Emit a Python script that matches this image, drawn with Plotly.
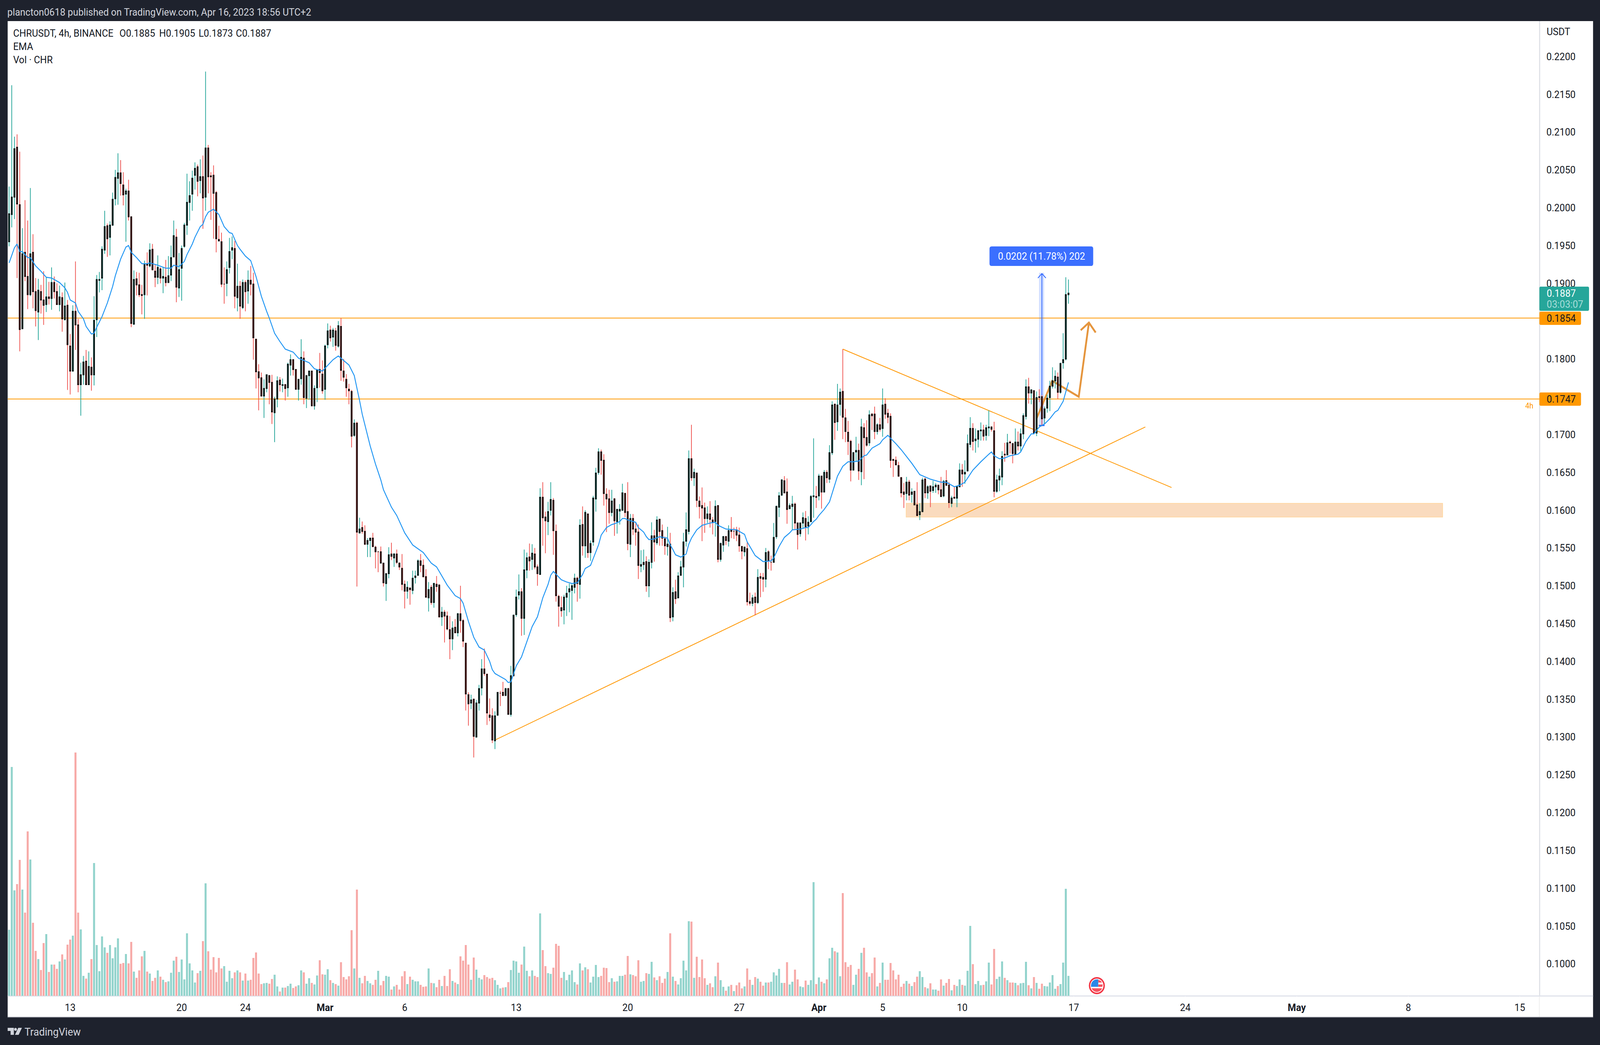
import math
import pandas as pd
import plotly.graph_objects as go

# 4h candles
open_ = [
    .1955,.1991,.2014,.2080,.2004,.1840,.1941,.1909,.1885,.1941,
    .1889,.1862,.1889,.1878,.1872,.1882,.1880,.1901,.1889,.1872,
    .1881,.1852,.1871,.1817,.1784,.1863,.1845,.1766,.1779,.1797,
    .1766,.1789,.1779,.1852,.1904,.1907,.1944,.1976,.1961,.1977,
    .2012,.2039,.2046,.2030,.2018,.2022,.1988,.1846,.1906,.1898,
    .1885,.1885,.1925,.1923,.1945,.1916,.1908,.1919,.1907,.1908,
    .1901,.1911,.1935,.1961,.1894,.1920,.1949,.1977,.2007,.2018,
    .2043,.2054,.2036,.2041,.2014,.2079,.2042,.2043,.2020,.1958,
    .1955,.1899,.1900,.1921,.1944,.1946,.1881,.1896,.1868,.1901,
    .1890,.1904,.1899,.1826,.1783,.1775,.1751,.1761,.1778,.1769,
    .1729,.1747,.1772,.1765,.1766,.1762,.1792,.1799,.1786,.1760,
    .1774,.1801,.1748,.1778,.1784,.1738,.1762,.1786,.1780,.1760,
    .1819,.1838,.1829,.1837,.1817,.1843,.1784,.1773,.1760,.1757,
    .1699,.1715,.1570,.1577,.1572,.1555,.1560,.1563,.1551,.1545,
    .1545,.1530,.1503,.1516,.1542,.1537,.1542,.1530,.1523,.1502,
    .1493,.1497,.1494,.1511,.1514,.1533,.1527,.1512,.1484,.1498,
    .1478,.1502,.1501,.1459,.1465,.1460,.1442,.1430,.1445,.1438,
    .1463,.1454,.1424,.1356,.1345,.1350,.1300,.1345,.1365,.1390,
    .1383,.1329,.1328,.1295,.1329,.1358,.1359,.1355,.1364,.1330,
    .1381,.1462,.1488,.1492,.1457,.1521,.1538,.1535,.1542,.1525,
    .1515,.1617,.1591,.1585,.1600,.1613,.1572,.1486,.1471,.1468,
    .1485,.1492,.1494,.1498,.1510,.1502,.1581,.1553,.1595,.1544,
    .1558,.1615,.1650,.1677,.1666,.1621,.1615,.1597,.1615,.1585,
    .1599,.1600,.1622,.1598,.1555,.1589,.1575,.1571,.1526,.1528,
    .1532,.1500,.1531,.1566,.1557,.1588,.1573,.1562,.1552,.1555,
    .1459,.1492,.1484,.1514,.1525,.1559,.1572,.1668,.1643,.1649,
    .1612,.1606,.1603,.1589,.1595,.1587,.1585,.1606,.1535,.1554,
    .1565,.1559,.1574,.1572,.1574,.1567,.1552,.1545,.1549,.1479,
    .1477,.1485,.1478,.1512,.1511,.1509,.1545,.1531,.1531,.1565,
    .1604,.1620,.1639,.1624,.1602,.1605,.1608,.1583,.1569,.1583,
    .1589,.1579,.1585,.1618,.1618,.1619,.1645,.1624,.1650,.1641,
    .1676,.1740,.1717,.1740,.1757,.1722,.1703,.1691,.1653,.1677,
    .1679,.1651,.1709,.1696,.1689,.1727,.1727,.1704,.1713,.1708,
    .1740,.1728,.1724,.1667,.1666,.1659,.1643,.1624,.1622,.1637,
    .1621,.1625,.1607,.1594,.1598,.1641,.1623,.1632,.1626,.1631,
    .1633,.1627,.1619,.1639,.1633,.1609,.1617,.1616,.1631,.1653,
    .1648,.1652,.1687,.1708,.1692,.1694,.1705,.1706,.1699,.1709,
    .1710,.1705,.1625,.1640,.1644,.1674,.1673,.1690,.1688,.1674,
    .1690,.1685,.1701,.1724,.1763,.1755,.1758,.1702,.1750,.1750,
    .1722,.1735,.1749,.1764,.1771,.1776,.1756,.1795,.1800,.1885,
]
high = [
    .2028,.2162,.2094,.2097,.2074,.1973,.2010,.1983,.2026,.1965,
    .1907,.1906,.1898,.1916,.1908,.1902,.1921,.1909,.1900,.1897,
    .1888,.1901,.1878,.1833,.1871,.1929,.1853,.1795,.1804,.1812,
    .1810,.1802,.1883,.1911,.1915,.1949,.1996,.1979,.1982,.2020,
    .2050,.2072,.2063,.2047,.2025,.2037,.1988,.1917,.1915,.1914,
    .1898,.1930,.1941,.1953,.1952,.1925,.1937,.1921,.1921,.1931,
    .1936,.1950,.1983,.1972,.1940,.1950,.1980,.2045,.2035,.2049,
    .2060,.2057,.2064,.2069,.2180,.2083,.2047,.2056,.2022,.1976,
    .1967,.1921,.1929,.1960,.1962,.1956,.1926,.1903,.1905,.1904,
    .1917,.1923,.1914,.1826,.1793,.1782,.1773,.1779,.1778,.1779,
    .1750,.1777,.1776,.1774,.1767,.1795,.1806,.1799,.1786,.1773,
    .1826,.1810,.1778,.1784,.1784,.1765,.1786,.1808,.1798,.1819,
    .1847,.1844,.1841,.1841,.1850,.1854,.1800,.1780,.1767,.1759,
    .1720,.1717,.1590,.1585,.1580,.1563,.1563,.1570,.1553,.1546,
    .1552,.1530,.1516,.1551,.1557,.1543,.1548,.1531,.1542,.1507,
    .1506,.1498,.1520,.1520,.1535,.1542,.1535,.1522,.1505,.1501,
    .1504,.1513,.1502,.1472,.1468,.1466,.1460,.1453,.1456,.1464,
    .1500,.1456,.1424,.1359,.1356,.1350,.1349,.1369,.1403,.1417,
    .1384,.1351,.1338,.1334,.1359,.1361,.1373,.1365,.1365,.1394,
    .1462,.1495,.1515,.1497,.1548,.1544,.1556,.1555,.1550,.1528,
    .1629,.1637,.1598,.1611,.1637,.1616,.1581,.1488,.1486,.1488,
    .1500,.1503,.1503,.1516,.1512,.1588,.1605,.1600,.1595,.1560,
    .1619,.1656,.1682,.1680,.1674,.1629,.1627,.1627,.1616,.1601,
    .1608,.1635,.1623,.1637,.1595,.1595,.1584,.1581,.1547,.1548,
    .1539,.1535,.1584,.1574,.1592,.1588,.1581,.1565,.1578,.1570,
    .1498,.1508,.1518,.1533,.1570,.1597,.1679,.1713,.1655,.1649,
    .1618,.1630,.1610,.1605,.1612,.1591,.1613,.1606,.1557,.1566,
    .1566,.1580,.1591,.1577,.1578,.1577,.1552,.1552,.1558,.1491,
    .1488,.1491,.1522,.1517,.1517,.1550,.1547,.1540,.1583,.1606,
    .1624,.1641,.1645,.1642,.1609,.1619,.1610,.1583,.1583,.1597,
    .1599,.1592,.1620,.1695,.1632,.1648,.1645,.1653,.1653,.1686,
    .1744,.1741,.1767,.1761,.1813,.1734,.1718,.1693,.1677,.1697,
    .1688,.1721,.1715,.1719,.1732,.1728,.1737,.1715,.1722,.1761,
    .1748,.1734,.1728,.1668,.1671,.1664,.1644,.1636,.1644,.1640,
    .1629,.1625,.1637,.1609,.1643,.1643,.1633,.1632,.1639,.1636,
    .1633,.1644,.1640,.1653,.1637,.1619,.1631,.1632,.1662,.1661,
    .1666,.1700,.1723,.1715,.1708,.1706,.1716,.1713,.1713,.1732,
    .1711,.1717,.1647,.1655,.1678,.1689,.1701,.1692,.1689,.1708,
    .1704,.1708,.1728,.1773,.1775,.1760,.1758,.1757,.1760,.1752,
    .1737,.1753,.1771,.1789,.1785,.1782,.1795,.1834,.1908,.1905,
]
low = [
    .1949,.1974,.1985,.1907,.1810,.1840,.1903,.1866,.1883,.1867,
    .1843,.1825,.1860,.1845,.1862,.1872,.1865,.1880,.1872,.1863,
    .1836,.1851,.1759,.1753,.1784,.1812,.1756,.1725,.1766,.1766,
    .1766,.1758,.1765,.1829,.1888,.1891,.1939,.1935,.1937,.1976,
    .2003,.2004,.2016,.2003,.1955,.1983,.1842,.1845,.1884,.1882,
    .1859,.1853,.1884,.1921,.1917,.1895,.1899,.1900,.1887,.1896,
    .1901,.1903,.1935,.1875,.1882,.1877,.1947,.1964,.1983,.1996,
    .2024,.2015,.2019,.1972,.1996,.2019,.1984,.1959,.1941,.1956,
    .1895,.1873,.1883,.1913,.1932,.1867,.1863,.1853,.1866,.1863,
    .1873,.1884,.1799,.1761,.1732,.1750,.1722,.1756,.1740,.1714,
    .1690,.1736,.1757,.1756,.1745,.1750,.1778,.1778,.1760,.1745,
    .1766,.1740,.1735,.1746,.1738,.1733,.1743,.1762,.1754,.1746,
    .1814,.1823,.1816,.1811,.1815,.1771,.1770,.1750,.1740,.1683,
    .1697,.1499,.1569,.1569,.1554,.1538,.1538,.1551,.1523,.1518,
    .1530,.1499,.1480,.1510,.1534,.1525,.1529,.1521,.1494,.1470,
    .1483,.1475,.1489,.1503,.1513,.1518,.1511,.1485,.1466,.1475,
    .1471,.1492,.1458,.1447,.1425,.1441,.1403,.1415,.1438,.1433,
    .1438,.1419,.1335,.1315,.1337,.1273,.1299,.1335,.1355,.1381,
    .1316,.1321,.1292,.1284,.1328,.1341,.1354,.1354,.1330,.1327,
    .1381,.1459,.1482,.1434,.1435,.1510,.1520,.1521,.1522,.1500,
    .1515,.1553,.1543,.1567,.1593,.1541,.1479,.1446,.1459,.1449,
    .1460,.1465,.1455,.1490,.1479,.1483,.1540,.1537,.1537,.1533,
    .1553,.1598,.1647,.1647,.1606,.1571,.1582,.1592,.1566,.1569,
    .1581,.1599,.1591,.1547,.1538,.1567,.1553,.1509,.1518,.1521,
    .1492,.1485,.1523,.1532,.1554,.1553,.1553,.1541,.1540,.1452,
    .1453,.1476,.1484,.1513,.1498,.1552,.1568,.1639,.1632,.1604,
    .1589,.1559,.1570,.1583,.1577,.1568,.1565,.1531,.1532,.1545,
    .1554,.1552,.1563,.1562,.1559,.1545,.1535,.1539,.1474,.1474,
    .1473,.1461,.1476,.1485,.1492,.1498,.1522,.1520,.1531,.1562,
    .1591,.1619,.1622,.1582,.1602,.1574,.1575,.1548,.1565,.1576,
    .1560,.1568,.1584,.1590,.1603,.1613,.1602,.1624,.1636,.1636,
    .1673,.1693,.1705,.1725,.1694,.1690,.1673,.1638,.1653,.1664,
    .1640,.1633,.1641,.1684,.1685,.1706,.1694,.1700,.1704,.1697,
    .1721,.1715,.1656,.1644,.1660,.1644,.1617,.1603,.1613,.1613,
    .1610,.1607,.1592,.1587,.1598,.1616,.1615,.1604,.1623,.1623,
    .1621,.1618,.1617,.1632,.1603,.1604,.1615,.1604,.1631,.1631,
    .1635,.1651,.1683,.1679,.1676,.1683,.1692,.1692,.1692,.1698,
    .1704,.1617,.1623,.1625,.1633,.1664,.1673,.1675,.1662,.1673,
    .1679,.1678,.1694,.1720,.1741,.1740,.1701,.1698,.1743,.1711,
    .1714,.1729,.1731,.1761,.1761,.1747,.1754,.1787,.1798,.1873,
]
close = [
    .1992,.2014,.2078,.2005,.1839,.1939,.1909,.1885,.1939,.1889,
    .1864,.1891,.1878,.1871,.1882,.1880,.1901,.1889,.1872,.1882,
    .1853,.1870,.1819,.1784,.1863,.1845,.1766,.1779,.1796,.1766,
    .1790,.1779,.1851,.1905,.1905,.1945,.1975,.1959,.1977,.2011,
    .2040,.2046,.2032,.2017,.2022,.1988,.1847,.1905,.1898,.1885,
    .1884,.1925,.1924,.1944,.1918,.1908,.1921,.1907,.1909,.1901,
    .1910,.1934,.1963,.1895,.1918,.1946,.1977,.2007,.2016,.2039,
    .2052,.2035,.2041,.2013,.2079,.2041,.2041,.2019,.1959,.1956,
    .1899,.1899,.1918,.1942,.1947,.1883,.1896,.1870,.1901,.1889,
    .1904,.1899,.1828,.1783,.1775,.1751,.1761,.1779,.1769,.1730,
    .1747,.1771,.1766,.1766,.1761,.1793,.1799,.1786,.1760,.1773,
    .1802,.1749,.1778,.1784,.1738,.1761,.1785,.1782,.1758,.1817,
    .1837,.1828,.1838,.1818,.1844,.1785,.1776,.1762,.1758,.1698,
    .1715,.1571,.1575,.1572,.1555,.1560,.1563,.1552,.1545,.1545,
    .1530,.1504,.1516,.1541,.1539,.1542,.1531,.1525,.1502,.1493,
    .1498,.1495,.1510,.1513,.1533,.1527,.1512,.1485,.1495,.1478,
    .1503,.1499,.1459,.1465,.1460,.1443,.1430,.1444,.1438,.1463,
    .1454,.1427,.1357,.1344,.1349,.1301,.1345,.1364,.1390,.1384,
    .1332,.1326,.1296,.1328,.1359,.1358,.1355,.1364,.1330,.1381,
    .1461,.1485,.1492,.1457,.1521,.1537,.1533,.1543,.1525,.1516,
    .1617,.1590,.1586,.1598,.1614,.1573,.1487,.1473,.1467,.1485,
    .1490,.1496,.1500,.1510,.1503,.1580,.1553,.1597,.1544,.1556,
    .1616,.1649,.1677,.1666,.1622,.1615,.1597,.1612,.1586,.1601,
    .1601,.1623,.1597,.1556,.1589,.1575,.1571,.1527,.1528,.1531,
    .1500,.1531,.1566,.1558,.1587,.1572,.1563,.1553,.1555,.1458,
    .1491,.1483,.1513,.1525,.1558,.1574,.1668,.1643,.1650,.1613,
    .1605,.1603,.1589,.1595,.1588,.1584,.1605,.1535,.1556,.1565,
    .1560,.1573,.1572,.1572,.1567,.1553,.1546,.1551,.1479,.1477,
    .1484,.1478,.1511,.1510,.1509,.1544,.1533,.1531,.1564,.1605,
    .1619,.1640,.1623,.1601,.1606,.1608,.1583,.1568,.1583,.1590,
    .1578,.1584,.1618,.1619,.1617,.1645,.1624,.1650,.1643,.1676,
    .1739,.1716,.1739,.1756,.1723,.1704,.1691,.1653,.1676,.1679,
    .1652,.1710,.1696,.1686,.1726,.1725,.1704,.1713,.1707,.1739,
    .1727,.1723,.1666,.1666,.1660,.1645,.1623,.1621,.1637,.1620,
    .1624,.1607,.1593,.1598,.1640,.1623,.1631,.1625,.1631,.1633,
    .1627,.1618,.1638,.1633,.1610,.1616,.1616,.1631,.1653,.1648,
    .1650,.1688,.1708,.1691,.1694,.1705,.1706,.1698,.1709,.1710,
    .1707,.1625,.1640,.1645,.1671,.1673,.1689,.1689,.1675,.1690,
    .1685,.1701,.1725,.1763,.1755,.1759,.1702,.1749,.1749,.1721,
    .1734,.1748,.1764,.1771,.1777,.1756,.1794,.1799,.1885,.1887,
]
# volume in units of 10k CHR (estimated, the pane has no scale)
volume = [
    169,586,270,286,348,272,213,421,349,187,
    115,94,66,135,158,61,80,80,69,88,
    106,93,131,144,154,623,213,170,51,44,
    59,94,340,130,63,152,124,110,130,96,
    124,147,82,84,107,83,138,62,46,65,
    101,115,62,57,38,46,65,49,41,35,
    37,59,90,100,61,93,42,160,83,65,
    34,58,64,140,288,114,67,99,60,97,
    70,76,36,64,45,60,65,60,39,57,
    39,41,97,111,57,30,32,33,31,43,
    54,24,11,21,21,25,31,20,24,27,
    65,60,31,45,33,29,52,91,55,54,
    68,40,33,30,26,86,48,42,50,168,
    70,272,46,32,51,38,32,28,41,64,
    27,38,51,49,16,24,28,16,50,63,
    30,49,41,37,37,28,23,24,70,33,
    32,22,41,25,51,25,68,38,34,30,
    101,90,130,80,41,98,67,46,42,53,
    48,44,46,40,28,19,21,22,35,66,
    90,88,59,80,126,64,50,65,51,48,
    211,117,76,58,56,72,133,128,46,61,
    40,54,65,35,29,83,65,73,68,34,
    49,79,48,51,72,71,35,45,36,37,
    51,51,54,102,55,53,50,91,36,38,
    58,56,87,47,40,50,33,44,61,160,
    49,38,29,45,90,65,191,190,46,100,
    48,93,45,28,32,22,50,85,40,23,
    13,24,28,12,27,34,19,24,70,41,
    28,48,44,36,26,34,34,36,60,52,
    69,33,33,86,29,36,67,42,24,22,
    39,28,40,291,30,47,36,32,42,96,
    123,114,111,50,263,86,74,79,28,54,
    69,110,123,60,49,58,98,24,33,85,
    41,41,84,65,42,54,23,31,38,31,
    25,35,49,63,48,22,19,32,16,16,
    13,42,26,33,43,14,28,25,42,28,
    26,64,179,81,30,38,27,28,37,85,
    29,120,43,49,88,46,40,34,34,33,
    27,32,33,87,27,19,48,33,18,31,
    25,24,34,53,18,25,30,85,274,51,
]
# EMA read at a selection of bars
ema_bars = [
    0,2,3,4,5,7,8,10,12,14,16,19,21,22,23,25,26,28,29,31,32,33,35,37,39,40,42,44,45,46,
    48,50,52,53,56,59,61,62,64,66,67,69,70,72,73,74,75,77,79,81,83,84,86,87,89,91,93,95,97,98,
    100,102,104,107,109,113,115,118,122,124,128,130,132,133,136,138,140,141,144,146,149,152,156,159,161,165,168,170,171,173,
    175,177,179,181,182,183,187,188,189,191,193,195,197,199,201,203,204,205,208,210,212,214,216,217,219,220,222,223,225,227,
    228,230,231,232,233,236,237,239,240,241,243,245,248,249,250,251,253,255,256,257,259,261,264,266,267,270,274,277,278,280,
    281,284,287,288,290,292,294,295,298,300,301,303,304,305,307,309,310,312,314,316,318,320,322,323,325,328,329,331,332,334,
    336,338,340,343,345,347,350,351,353,356,358,360,363,366,369,370,371,373,375,377,380,381,383,385,386,388,390,392,394,395,
    397,399,
]
ema_values = [
    .1927,.1947,.1952,.1942,.1942,.1934,.1934,.1923,.1916,.1908,.1907,.1901,.1894,.1888,.1878,.1874,.1863,.1853,.1843,.1833,.1834,.1842,.1856,.1874,.1896,.1910,.1932,.1948,.1950,.1941,
    .1934,.1926,.1926,.1927,.1924,.1920,.1920,.1924,.1922,.1929,.1938,.1952,.1961,.1975,.1978,.1988,.1994,.1998,.1991,.1975,.1967,.1966,.1950,.1945,.1936,.1930,.1909,.1883,.1863,.1854,
    .1834,.1823,.1813,.1809,.1801,.1795,.1787,.1784,.1799,.1804,.1792,.1778,.1745,.1727,.1685,.1661,.1640,.1627,.1604,.1593,.1570,.1554,.1544,.1530,.1525,.1501,.1487,.1483,.1477,.1453,
    .1432,.1419,.1415,.1400,.1389,.1384,.1376,.1372,.1373,.1394,.1406,.1426,.1446,.1459,.1484,.1502,.1514,.1519,.1508,.1505,.1503,.1504,.1515,.1523,.1527,.1536,.1554,.1567,.1577,.1581,
    .1582,.1585,.1589,.1589,.1587,.1584,.1577,.1571,.1565,.1561,.1562,.1565,.1563,.1554,.1548,.1541,.1538,.1542,.1555,.1563,.1574,.1580,.1583,.1584,.1580,.1575,.1574,.1568,.1558,.1546,
    .1540,.1532,.1533,.1537,.1552,.1564,.1570,.1574,.1575,.1577,.1577,.1585,.1588,.1593,.1601,.1611,.1622,.1645,.1658,.1664,.1664,.1665,.1672,.1673,.1682,.1688,.1693,.1699,.1695,.1688,
    .1680,.1671,.1662,.1647,.1644,.1641,.1638,.1637,.1637,.1631,.1633,.1637,.1653,.1664,.1674,.1677,.1672,.1668,.1669,.1672,.1674,.1677,.1691,.1701,.1701,.1710,.1714,.1721,.1730,.1732,
    .1744,.1769,
]
x_tick_dates = ["2023-02-13","2023-02-20","2023-02-24","2023-03-01","2023-03-06","2023-03-13","2023-03-20","2023-03-27",
                "2023-04-01","2023-04-05","2023-04-10","2023-04-17","2023-04-24","2023-05-01","2023-05-08","2023-05-15"]
x_tick_labels = ["13","20","24","<b>Mar</b>","6","13","20","27","<b>Apr</b>","5","10","17","24","<b>May</b>","8","15"]
y_ticks = [.10,.105,.11,.115,.12,.125,.13,.135,.14,.145,.15,.155,.16,.165,.17,.18,.19,.195,.20,.205,.21,.215,.22]

GREEN = "#26A69A"
RED = "#EF5350"
ORANGE = "#FF9800"
BLUE = "#2962FF"
DARK = "#1E222D"
TEXT = "#131722"
FONT = "Roboto"

W, H = 4382, 2676
PLOT_L, PLOT_R, PLOT_T, PLOT_B = 21, 4216, 54, 2550

dates = pd.date_range("2023-02-09 04:00", periods=len(close), freq="4h")
ema_dates = [dates[i] for i in ema_bars]
up = [c >= o for o, c in zip(open_, close)]
vol_colors = ["#92D3CC" if u else "#F7A9A7" for u in up]
body_high = [max(o, c) for o, c in zip(open_, close)]
body_low = [min(o, c) for o, c in zip(open_, close)]


def px_x(px):
    return (px - PLOT_L) / (PLOT_R - PLOT_L)


def px_y(py):
    return (PLOT_B - py) / (PLOT_B - PLOT_T)


def frame_rect(x0, y0, x1, y1, color, layer="below"):
    return dict(type="rect", xref="paper", yref="paper", x0=px_x(x0), x1=px_x(x1), y0=px_y(y0), y1=px_y(y1),
                fillcolor=color, line_width=0, layer=layer)


def poly(points, color, layer="above"):
    d = "M " + " L ".join(f"{px_x(a):.5f},{px_y(b):.5f}" for a, b in points) + " Z"
    return dict(type="path", xref="paper", yref="paper", path=d, fillcolor=color, line_width=0, layer=layer)


def round_box(x0, y0, x1, y1, r, color):
    X, Y = px_x, px_y
    d = (f"M {X(x0+r)},{Y(y0)} L {X(x1-r)},{Y(y0)} Q {X(x1)},{Y(y0)} {X(x1)},{Y(y0+r)} "
         f"L {X(x1)},{Y(y1-r)} Q {X(x1)},{Y(y1)} {X(x1-r)},{Y(y1)} L {X(x0+r)},{Y(y1)} "
         f"Q {X(x0)},{Y(y1)} {X(x0)},{Y(y1-r)} L {X(x0)},{Y(y0+r)} Q {X(x0)},{Y(y0)} {X(x0+r)},{Y(y0)} Z")
    return dict(type="path", xref="paper", yref="paper", path=d, fillcolor=color, line_width=0, layer="above")


def arc(cx, cy, r, a0, a1, n=24):
    return [(cx + r * math.cos(math.radians(a0 + (a1 - a0) * k / n)),
             cy + r * math.sin(math.radians(a0 + (a1 - a0) * k / n))) for k in range(n + 1)]


def note(px, py, text, size=26, color=TEXT, anchor="left"):
    return dict(xref="paper", yref="paper", x=px_x(px), y=px_y(py), text=text, showarrow=False, xanchor=anchor,
                yanchor="middle", font=dict(family=FONT, size=size, color=color), borderpad=0, borderwidth=0)


def chart_line(x0, y0, x1, y1, color=ORANGE, width=2, layer="below"):
    return dict(type="line", xref="x", yref="y2", x0=x0, y0=y0, x1=x1, y1=y1, line=dict(color=color, width=width), layer=layer)


def brush(xs, ys, color="#E5953D", width=5):
    d = "M " + " L ".join(f"{a.replace(' ', '_')},{b}" for a, b in zip(xs, ys))
    return dict(type="path", xref="x", yref="y2", path=d, line=dict(color=color, width=width), layer="below")


fig = go.Figure()
fig.add_trace(go.Bar(x=dates, y=volume, marker=dict(color=vol_colors, line_width=0), yaxis="y", hoverinfo="skip"))
# wicks first, then bodies with the black outline on top
fig.add_trace(go.Candlestick(x=dates, open=open_, high=high, low=low, close=close, yaxis="y2", whiskerwidth=0,
                             increasing=dict(line=dict(color=GREEN, width=2), fillcolor=GREEN),
                             decreasing=dict(line=dict(color=RED, width=2), fillcolor=RED)))
fig.add_trace(go.Candlestick(x=dates, open=open_, high=body_high, low=body_low, close=close, yaxis="y2", whiskerwidth=0,
                             increasing=dict(line=dict(color="#000000", width=2), fillcolor=GREEN),
                             decreasing=dict(line=dict(color="#000000", width=2), fillcolor=RED), hoverinfo="skip"))
fig.add_trace(go.Scatter(x=ema_dates, y=ema_values, mode="lines", yaxis="y2", line=dict(color="#2196F3", width=2.5), hoverinfo="skip"))

shapes = [
    frame_rect(PLOT_R, PLOT_T, 4363, 2605, "#FFFFFF"),
    frame_rect(PLOT_L, PLOT_B, PLOT_R, 2605, "#FFFFFF"),
    frame_rect(PLOT_L, PLOT_B - 1, 4363, PLOT_B + 2, "#E0E3EB"),
    frame_rect(PLOT_L, 2604, 4363, 2606, "#787B86"),
    # support zone
    dict(type="rect", xref="x", yref="y2", x0="2023-04-06 11:30", x1="2023-05-10 03:40", y0=.1591, y1=.1609,
         fillcolor="#FADBBE", line=dict(color="#FFD9A6", width=2), layer="below"),
    chart_line("2023-01-01", .1854, "2023-06-01", .1854),
    chart_line("2023-01-01", .1747, "2023-06-01", .1747),
    chart_line("2023-03-11 16:00", .1296, "2023-04-21 11:50", .1710),
    chart_line("2023-04-02 12:00", .1813, "2023-04-23 03:20", .1630),
    # measure tool
    dict(type="rect", xref="x", yref="y2", x0="2023-04-14 19:40", x1="2023-04-15 03:25", y0=.1712, y1=.1914,
         fillcolor="rgba(41,98,255,0.2)", line_width=0, layer="below"),
    chart_line("2023-04-15 00:00", .1712, "2023-04-15 00:00", .1913, BLUE),
    chart_line("2023-04-14 19:20", .1712, "2023-04-15 04:00", .1712, BLUE, 3),
    chart_line("2023-04-14 18:00", .1907, "2023-04-15 00:00", .1913, BLUE),
    chart_line("2023-04-15 00:00", .1913, "2023-04-15 06:00", .1907, BLUE),
    brush(["2023-04-14 15:50", "2023-04-15 15:35", "2023-04-17 07:30", "2023-04-17 22:50"], [.1721, .1771, .1750, .1848]),
    brush(["2023-04-17 10:30", "2023-04-17 22:50", "2023-04-18 09:00"], [.1838, .1848, .1835]),
    # price tags and measure label
    round_box(2710, 631, 2994, 681, 6, "#3B6FFF"),
    round_box(PLOT_R, 734, 4352, 796, 4, GREEN),
    round_box(PLOT_R, 798, 4330, 832, 4, ORANGE),
    round_box(PLOT_R, 1005, 4330, 1039, 4, ORANGE),
    # TradingView logo
    poly([(21, 2632), (38, 2632), (38, 2650), (29, 2650), (29, 2640), (21, 2640)], "#D1D4DC"),
    poly(arc(42.5, 2636, 3.8, 0, 360), "#D1D4DC"),
    poly([(50, 2632), (60, 2632), (51, 2650), (41, 2650)], "#D1D4DC"),
    # event flag
    poly(arc(3004, 2524, 22, 0, 360), "#F23645"),
    poly(arc(3004, 2524, 18, 0, 360), "#FFFFFF"),
    poly(arc(3004, 2524, 16, 180, 270) + [(3008, 2508), (3008, 2527), (2988, 2527)], "#2B87E8"),
    poly([(3008, 2521), (3020, 2521), (3019, 2527), (3008, 2527)], "#F7525F"),
    poly([(3008, 2509), (3015, 2512), (3018, 2516), (3008, 2516)], "#F7525F"),
    poly(arc(3004, 2524, 16, 25, 155), "#F7525F"),
]

annotations = [
    note(20, 31, "plancton0618 published on TradingView.com, Apr 16, 2023 18:56 UTC+2", 26, "#D1D4DC"),
    note(36, 85, "CHRUSDT, 4h, BINANCE"),
    note(327, 85, "O0.1885"),
    note(436, 85, "H0.1905"),
    note(544, 85, "L0.1873"),
    note(646, 85, "C0.1887"),
    note(36, 119, "EMA"),
    note(36, 153, "Vol · CHR"),
    note(4236, 81, "USDT"),
    note(2852, 656, "0.0202 (11.78%) 202", 26, "#FFFFFF", "center"),
    note(4236, 751, "0.1887", 26, "#FFFFFF"),
    note(4236, 779, "03:03:07", 26, "#A9DDD8"),
    note(4236, 815, "0.1854"),
    note(4236, 1022, "0.1747"),
    note(4188, 1039, "4h", 20, ORANGE, "center"),
    note(67, 2642, "TradingView", 28, "#D1D4DC"),
]

fig.update_layout(
    width=W, height=H, autosize=False,
    margin=dict(l=PLOT_L, r=W - PLOT_R, t=PLOT_T, b=H - PLOT_B, pad=0),
    paper_bgcolor=DARK, plot_bgcolor="#FFFFFF",
    showlegend=False, bargap=0.25, boxgap=0.48, hovermode=False,
    shapes=shapes, annotations=annotations,
    font=dict(family=FONT, size=26, color=TEXT),
    xaxis=dict(type="date", range=["2023-02-09 01:50", "2023-05-16 05:30"], showgrid=False, zeroline=False,
               rangeslider=dict(visible=False), tickmode="array", tickvals=x_tick_dates, ticktext=x_tick_labels,
               ticks="outside", ticklen=7, tickcolor="#FFFFFF", tickfont=dict(family=FONT, size=26, color=TEXT), showline=False),
    yaxis=dict(range=[0, 2496], visible=False, fixedrange=True),
    yaxis2=dict(range=[.09578, .22468], overlaying="y", side="right", anchor="x", showgrid=False, zeroline=False,
                tickmode="array", tickvals=y_ticks, ticktext=[f"{v:.4f}" for v in y_ticks],
                ticks="outside", ticklen=12, tickcolor="#FFFFFF", tickfont=dict(family=FONT, size=26, color=TEXT),
                showline=True, linecolor="#E0E3EB", linewidth=2),
)

# the browser window can come up narrower than the figure, so fit the page to it
fit_page = f"""
document.documentElement.style.overflow='hidden';
document.documentElement.style.background='{DARK}';
var b=document.body;
b.style.margin='0';
b.style.width='{W}px';
b.style.height='{H}px';
b.style.transformOrigin='0 0';
b.style.transform='scale('+(window.innerWidth/{W})+','+(window.innerHeight/{H})+')';
"""
fig.write_html("out.html", config=dict(displayModeBar=False), post_script=fit_page)
